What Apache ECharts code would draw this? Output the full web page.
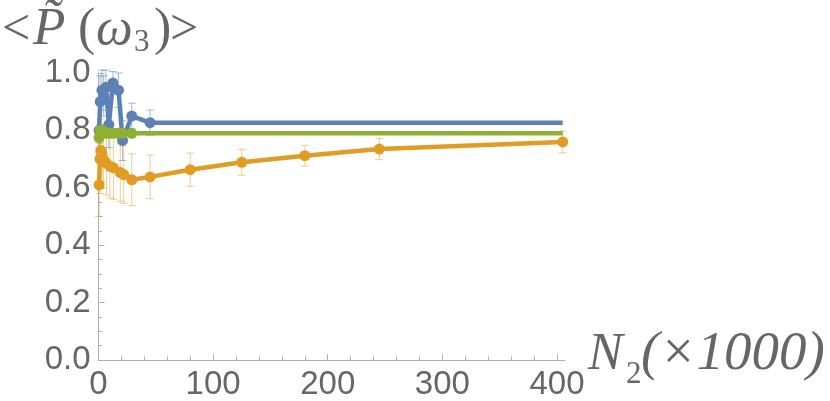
<!DOCTYPE html>
<html>
<head>
<meta charset="utf-8">
<script src="https://cdn.jsdelivr.net/npm/echarts@6/dist/echarts.min.js"></script>
<style>html,body{margin:0;padding:0;background:#fff}#c{width:830px;height:401px}</style>
</head>
<body>
<div id="c"></div>
<script>
// ---- data ----
const blueX   = [0.5, 1.5, 3, 4.5, 6.5, 9, 12.6, 17.5, 21, 29, 45, 405];
const blueY   = [0.80, 0.90, 0.94, 0.92, 0.95, 0.82, 0.965, 0.94, 0.765, 0.85, 0.827, 0.827];
const blueErr = [0.10, 0.09, 0.07, 0.07, 0.06, 0.08, 0.04, 0.06, 0.07, 0.045, 0.044, null];

const orangeX   = [0.5, 1.2, 2, 3, 4.3, 7, 10, 13, 19, 22, 29, 45, 80, 125, 180, 245, 405];
const orangeY   = [0.61, 0.70, 0.73, 0.72, 0.70, 0.685, 0.675, 0.67, 0.653, 0.646, 0.628, 0.638, 0.663, 0.689, 0.712, 0.735, 0.760];
const orangeErr = [0.11, 0.12, 0.11, 0.1, 0.1, 0.11, 0.11, 0.11, 0.1, 0.1, 0.09, 0.076, 0.058, 0.045, 0.036, 0.037, 0.038];

const greenX   = [0.5, 1.5, 3, 5, 7, 10, 13, 17, 21, 29, 405];
const greenY   = [0.775, 0.80, 0.80, 0.795, 0.79, 0.79, 0.79, 0.79, 0.79, 0.79, 0.79];
const greenErr = [0.02, 0.015, 0.012, 0.01, 0.01, 0.01, 0.01, 0.01, 0.01, 0.01, null];

const xTickValues = [0, 100, 200, 300, 400];

// ---- build ----
const C_BLUE = '#5E81B5', C_ORANGE = '#E19C24', C_GREEN = '#8FB032';

function lineData(xs, ys, flatEnd) {
  return xs.map((x, i) => (flatEnd && i === xs.length - 1)
    ? { value: [x, ys[i]], symbol: 'none' }
    : [x, ys[i]]);
}
function errData(xs, ys, es) {
  const out = [];
  xs.forEach((x, i) => { if (es[i] != null) out.push([x, ys[i] - es[i], ys[i] + es[i]]); });
  return out;
}
function errSeries(xs, ys, es, color) {
  return {
    type: 'custom', z: 1, silent: true, clip: false,
    data: errData(xs, ys, es),
    encode: { x: 0, y: [1, 2] },
    renderItem: function (params, api) {
      const x = api.value(0);
      const lo = api.coord([x, api.value(1)]);
      const hi = api.coord([x, api.value(2)]);
      const w = 4;
      const st = { stroke: color, lineWidth: 1 };
      return {
        type: 'group',
        children: [
          { type: 'line', shape: { x1: lo[0], y1: lo[1], x2: hi[0], y2: hi[1] }, style: st },
          { type: 'line', shape: { x1: lo[0] - w, y1: lo[1], x2: lo[0] + w, y2: lo[1] }, style: st },
          { type: 'line', shape: { x1: hi[0] - w, y1: hi[1], x2: hi[0] + w, y2: hi[1] }, style: st }
        ]
      };
    }
  };
}
function lineSeries(xs, ys, color, flatEnd) {
  return {
    type: 'line', z: 3, clip: false,
    data: lineData(xs, ys, flatEnd),
    symbol: 'circle', symbolSize: 11, showSymbol: true,
    lineStyle: { color: color, width: 4.5 },
    itemStyle: { color: color },
    emphasis: { disabled: true }, animation: false
  };
}

const axisGray = '#b0b0b0';
const labelGray = '#666666';
const serif = '"Liberation Serif", "DejaVu Serif", serif';

function txt(text, x, baseline, size, italic) {
  return {
    type: 'text', x: x, y: baseline - 0.34 * size,
    style: { text: text, font: (italic ? 'italic ' : '') + size + 'px ' + serif,
             fill: labelGray, verticalAlign: 'middle', align: 'left' }
  };
}

const chart = echarts.init(document.getElementById('c'), null, { renderer: 'canvas' });
chart.setOption({
  animation: false,
  grid: { left: 98.5, right: 265, top: 73, bottom: 40, containLabel: false },
  xAxis: {
    type: 'value', min: 0, max: 407, interval: 100,
    axisLine: { show: true, onZero: false, lineStyle: { color: axisGray, width: 1 } },
    axisTick: { show: true, inside: true, length: 6, customValues: xTickValues, lineStyle: { color: axisGray } },
    minorTick: { show: true, splitNumber: 5, length: 3.5, lineStyle: { color: axisGray } },
    splitLine: { show: false }, minorSplitLine: { show: false },
    axisLabel: { customValues: xTickValues, fontSize: 33, color: labelGray, margin: 8,
                 fontFamily: '"Liberation Sans", Arial, sans-serif' }
  },
  yAxis: {
    type: 'value', min: 0, max: 1, interval: 0.2,
    axisLine: { show: true, onZero: false, lineStyle: { color: axisGray, width: 1 } },
    axisTick: { show: true, inside: true, length: 6, lineStyle: { color: axisGray } },
    minorTick: { show: true, splitNumber: 4, length: 3.5, lineStyle: { color: axisGray } },
    splitLine: { show: false },
    axisLabel: { fontSize: 33, color: labelGray, margin: 8,
                 fontFamily: '"Liberation Sans", Arial, sans-serif',
                 formatter: v => v.toFixed(1) }
  },
  series: [
    errSeries(blueX, blueY, blueErr, 'rgba(94,129,181,0.55)'),
    errSeries(orangeX, orangeY, orangeErr, 'rgba(225,156,36,0.5)'),
    errSeries(greenX, greenY, greenErr, 'rgba(143,176,50,0.5)'),
    lineSeries(blueX, blueY, C_BLUE, true),
    lineSeries(orangeX, orangeY, C_ORANGE, false),
    lineSeries(greenX, greenY, C_GREEN, true)
  ],
  graphic: [
    txt('<', 2, 48, 50, false),
    txt('P\u0303', 33, 48, 53, true),
    txt('(', 78, 48, 52, false),
    txt('\u03C9', 96, 48, 52, true),
    txt('3', 134, 53, 31, false),
    txt(')', 154, 48, 52, false),
    txt('>', 170, 48, 50, false),
    txt('N', 588, 373, 52, true),
    txt('2', 626, 385, 31, false),
    txt('(\u00D71000)', 641, 373, 55, true)
  ]
});
</script>
</body>
</html>
